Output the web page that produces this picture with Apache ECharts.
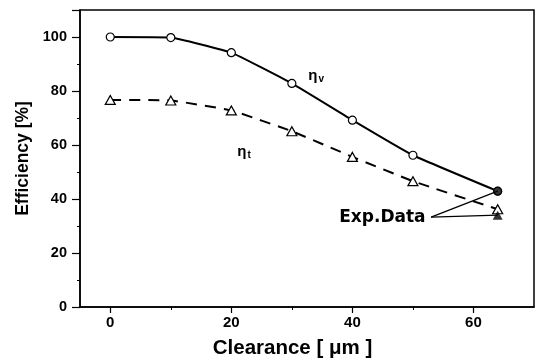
<!DOCTYPE html>
<html><head><meta charset="utf-8">
<script src="https://cdn.jsdelivr.net/npm/echarts@6/dist/echarts.min.js"></script>
<style>html,body{margin:0;padding:0;background:#fff}#c{width:536px;height:364px}</style>
</head><body><div id="c"></div>
<script>
const clearance = [0, 10, 20, 30, 40, 50, 64];
const etaV = [100, 99.8, 94.2, 82.8, 69.2, 56.2, 42.9];
const etaT = [76.7, 76.5, 72.8, 65.1, 55.6, 46.6, 36.2];
const expCircle = [[64, 42.9]];
const expTriangle = [[64, 34.0]];
const xMajorTicks = [0, 20, 40, 60];
const xMinorTicks = [10, 30, 50];
const xLabel = 'Clearance [ μm ]';
const yLabel = 'Efficiency [%]';
const expLabelPos = [53, 33.3];
const etaVLabelPos = [34, 85.5];
const etaTLabelPos = [22.1, 57.6];

const F = '"Liberation Sans", Arial, sans-serif';
const FW = '"DejaVu Sans", sans-serif';
const chart = echarts.init(document.getElementById('c'), null, {renderer: 'canvas'});
const pair = (xs, ys) => xs.map((x, i) => [x, ys[i]]);
const etaRich = {
  a: {fontFamily: F, fontWeight: 'bold', fontSize: 15, color: '#000'},
  b: {fontFamily: F, fontWeight: 'bold', fontSize: 10, color: '#000', padding: [7, 0, 0, 1]}
};

const baseX = {
  type: 'value', min: -5, max: 70, interval: 5,
  splitLine: {show: false}
};

chart.setOption({
  backgroundColor: '#fff',
  animation: false,
  grid: {left: 80, right: 2, top: 10, bottom: 50, show: true, borderColor: '#000', borderWidth: 1.5, backgroundColor: 'transparent'},
  xAxis: [
    Object.assign({}, baseX, {
      name: xLabel, nameLocation: 'middle', nameGap: 31,
      nameTextStyle: {fontFamily: F, fontWeight: 'bold', fontSize: 20.5, color: '#000', padding: [0, 29, 0, 0]},
      axisLine: {show: true, onZero: false, lineStyle: {color: '#000', width: 1.5}},
      axisTick: {show: true, inside: false, length: 6, customValues: xMajorTicks, lineStyle: {color: '#000', width: 1.2}},
      axisLabel: {fontFamily: F, fontWeight: 'bold', fontSize: 15, color: '#000', margin: 8, customValues: xMajorTicks}
    }),
    Object.assign({}, baseX, {
      position: 'bottom',
      axisLine: {show: false, onZero: false},
      axisTick: {show: true, inside: false, length: 3, customValues: xMinorTicks, lineStyle: {color: '#000', width: 1}},
      axisLabel: {show: false}
    })
  ],
  yAxis: {
    type: 'value', min: 0, max: 110, interval: 20,
    name: yLabel, nameLocation: 'middle', nameGap: 47, nameRotate: 90,
    nameTextStyle: {fontFamily: F, fontWeight: 'bold', fontSize: 17.5, color: '#000'},
    axisLine: {show: true, onZero: false, lineStyle: {color: '#000', width: 1.5}},
    axisTick: {show: true, inside: false, length: 8, lineStyle: {color: '#000', width: 1.2}},
    minorTick: {show: true, splitNumber: 2, length: 3, lineStyle: {color: '#000', width: 1}},
    splitLine: {show: false},
    axisLabel: {fontFamily: F, fontWeight: 'bold', fontSize: 14.5, color: '#000', margin: 13,
      formatter: v => (v <= 100) ? String(v) : ''}
  },
  series: [
    {
      type: 'line', name: 'etaV', data: pair(clearance, etaV), smooth: 0.1,
      symbol: 'circle', symbolSize: 8,
      itemStyle: {color: '#fff', borderColor: '#000', borderWidth: 1.2},
      lineStyle: {color: '#000', width: 2},
      z: 3,
      markPoint: {
        symbol: 'circle', symbolSize: 1, silent: true, itemStyle: {color: 'rgba(0,0,0,0)'},
        data: [
          {coord: etaVLabelPos, label: {show: true, position: 'inside', formatter: '{a|η}{b|v}', rich: etaRich}},
          {coord: etaTLabelPos, label: {show: true, position: 'inside', formatter: '{a|η}{b|t}', rich: etaRich}}
        ]
      }
    },
    {
      type: 'line', name: 'etaT', data: pair(clearance, etaT), smooth: 0.1,
      symbol: 'triangle', symbolSize: [10, 9],
      itemStyle: {color: '#fff', borderColor: '#000', borderWidth: 1.2},
      lineStyle: {color: '#000', width: 2, type: [11, 8]},
      z: 3
    },
    {
      type: 'scatter', name: 'expCircle', data: expCircle, symbol: 'circle', symbolSize: 9,
      itemStyle: {color: '#000'}, z: 5,
      markLine: {
        silent: true, symbol: 'none',
        lineStyle: {color: '#000', width: 1.3, type: 'solid'},
        label: {show: false},
        data: [
          [{coord: expLabelPos}, {coord: expCircle[0]}],
          [{coord: expLabelPos}, {coord: expTriangle[0]}]
        ]
      },
      markPoint: {
        symbol: 'circle', symbolSize: 1, silent: true, itemStyle: {color: 'rgba(0,0,0,0)'},
        data: [{coord: expLabelPos, label: {show: true, position: 'left', distance: 5, formatter: 'Exp.Data',
          fontFamily: FW, fontWeight: 'bold', fontSize: 17, color: '#000'}}]
      }
    },
    {
      type: 'scatter', name: 'expTriangle', data: expTriangle, symbol: 'triangle', symbolSize: [10, 9],
      itemStyle: {color: '#000'}, z: 5
    }
  ]
});
</script></body></html>
